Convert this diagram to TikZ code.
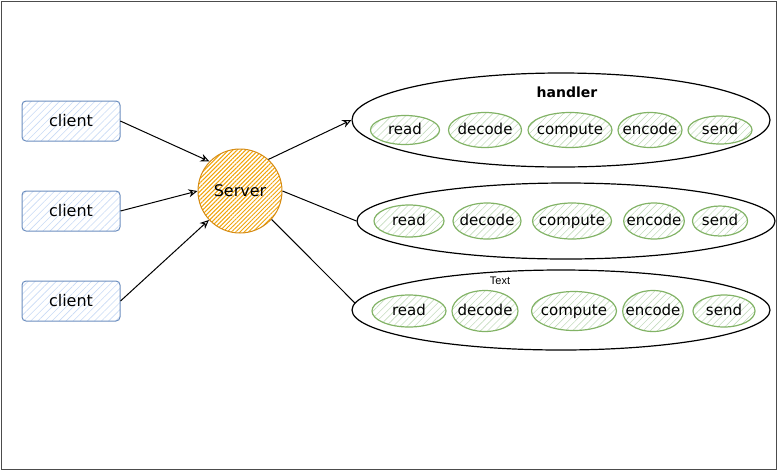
\documentclass[tikz,border=0pt]{standalone}
\usepackage{fontspec}
\setmainfont{DejaVu Sans}
\newfontfamily\smallfont{Liberation Sans}
\usetikzlibrary{positioning, shapes.geometric, arrows.meta, patterns.meta}

\definecolor{clientline}{RGB}{108,142,191}
\definecolor{clientfill}{RGB}{200,218,245}
\definecolor{serverline}{RGB}{214,140,20}
\definecolor{serverfill}{RGB}{240,163,10}
\definecolor{stageline}{RGB}{130,179,102}
\definecolor{stagefill}{RGB}{196,220,190}

\begin{document}
\begin{tikzpicture}
[
    x=1pt, y=-1pt, line width=1pt,
    % Clients are named C-0 ... C-2, the server is S
    % Handlers are named H-0 ... H-2, their stages N-row-col
]

%=================================== Start ===================================
\tikzstyle{client} = [draw=clientline, rounded corners=4pt, minimum width=98pt, minimum height=40pt,
    pattern={Lines[angle=45, distance=5pt, line width=0.6pt]}, pattern color=clientfill,
    font=\fontsize{16}{18}\selectfont]
\tikzstyle{server} = [circle, draw=serverline, minimum size=84pt, inner sep=0pt,
    pattern={Lines[angle=45, distance=3pt, line width=1pt]}, pattern color=serverfill,
    font=\fontsize{16}{18}\selectfont]
\tikzstyle{handler} = [ellipse, draw, line width=1.2pt, minimum width=418pt]
\tikzstyle{stage} = [ellipse, draw=stageline, line width=1.2pt, inner xsep=-6pt, inner ysep=0pt,
    text height=11pt, text depth=3pt,
    pattern={Lines[angle=45, distance=5pt, line width=0.6pt]}, pattern color=stagefill,
    font=\fontsize{15}{17}\selectfont]
\tikzstyle{link} = [-{Stealth[open, length=9pt, width=8pt]}]

\useasboundingbox (0,0) rectangle (778,472);
\draw[draw=black!70] (1,1) rectangle (776,469);

{
    % Draw clients and server
    \foreach \y in {0,...,2}
        \node[client] (C-\y) at (71,121+90*\y) {client};
    \node[server] (S) at (240,191) {Server};

    % Draw handlers
    \node[handler, minimum height=94pt] (H-0) at (561,120) {};
    \node[handler, minimum height=76pt] (H-1) at (566,221) {};
    \node[handler, minimum height=80pt] (H-2) at (561,310) {};
    \node[font=\fontsize{14}{16}\selectfont\bfseries] (L-0) at (567,92) {handler};
    \node[font=\smallfont\fontsize{11}{13}\selectfont] (L-2) at (500,281) {Text};

    % Draw stages
    \foreach \c / \x / \w / \h / \t in {0/405/69/29/read, 1/485/73/35/decode, 2/570/84/35/compute,
                                        3/650/64/35/encode, 4/720/64/28/send}
        \node[stage, minimum width=\w pt, minimum height=\h pt] (N-0-\c) at (\x,130) {\t};
    \foreach \c / \x / \w / \h / \t in {0/409/70/32/read, 1/487/68/36/decode, 2/572/79/36/compute,
                                        3/654/60/36/encode, 4/720/55/30/send}
        \node[stage, minimum width=\w pt, minimum height=\h pt] (N-1-\c) at (\x,221) {\t};
    \foreach \c / \x / \w / \h / \t in {0/409/74/32/read, 1/485/66/41/decode, 2/574/85/39/compute,
                                        3/653/60/41/encode, 4/724/62/32/send}
        \node[stage, minimum width=\w pt, minimum height=\h pt] (N-2-\c) at (\x,311) {\t};

    % Connect clients to server
    \foreach \y / \a in {0/136, 1/180, 2/223}
        \draw[link] (C-\y.east) -- (S.\a);
    % Connect server to handlers
    \draw[link] (S.48) -- (H-0.west);
    \draw (S.east) -- (H-1.west);
    \draw (S.-42) -- (H-2.178);
}
%==================================== END ====================================

\end{tikzpicture}
\end{document}
